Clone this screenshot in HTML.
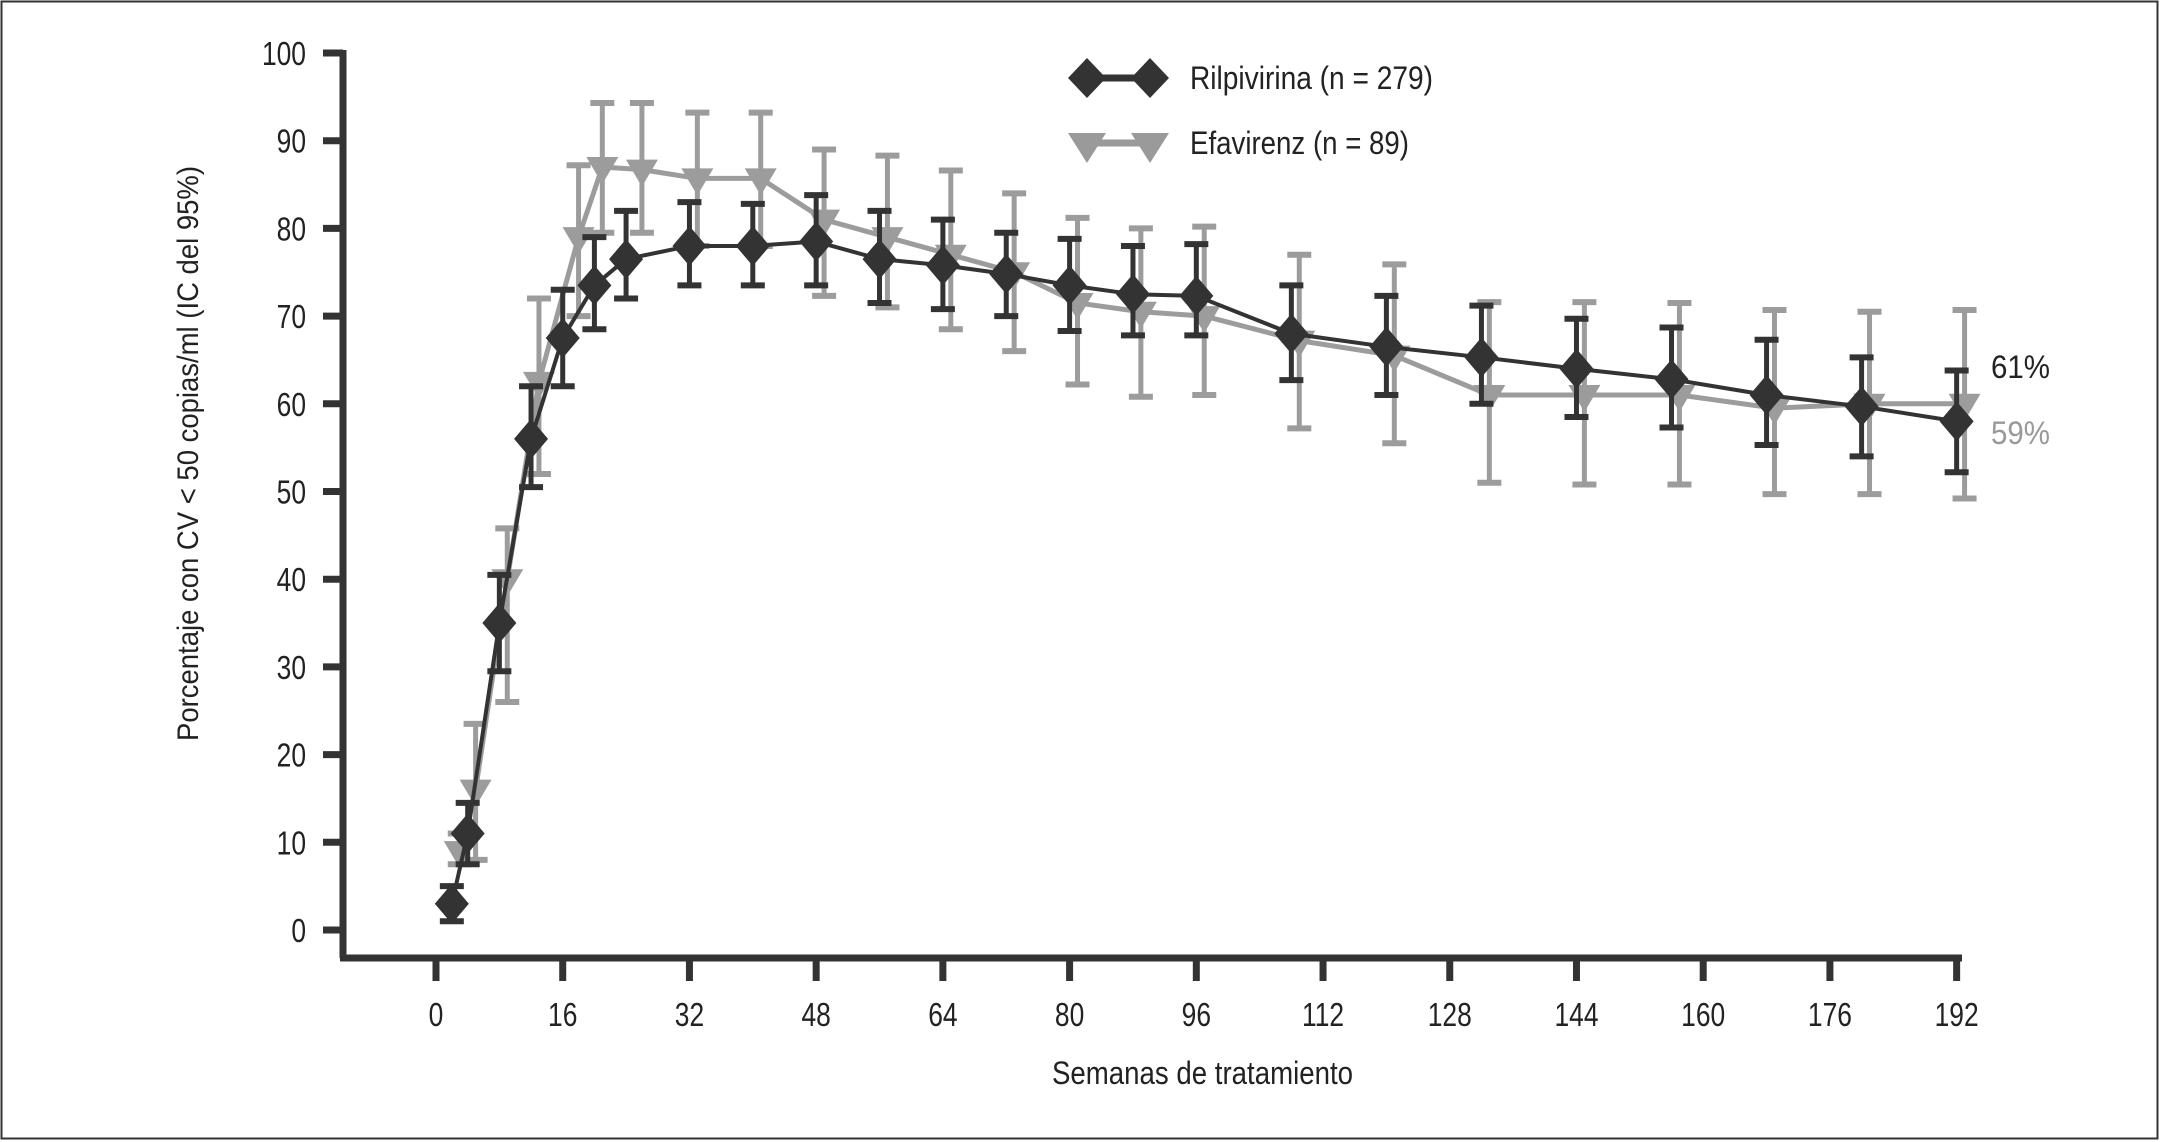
<!DOCTYPE html>
<html><head><meta charset="utf-8"><style>
html,body{margin:0;padding:0;background:#fff;}
svg{display:block;}
text{font-family:"Liberation Sans Narrow","Liberation Sans",sans-serif;}
</style></head><body>
<svg id="chart" width="2164" height="1142" viewBox="0 0 2164 1142" xmlns="http://www.w3.org/2000/svg">
<rect x="1.5" y="1.5" width="2156" height="1137" fill="#fff" stroke="#333" stroke-width="2"/>
<g id="axes"></g>
<g id="series"></g>
<g>
 <line x1="1087" y1="78" x2="1150" y2="78" stroke="#333" stroke-width="7"/>
 <polygon points="1087,58 1106,78 1087,98 1068,78" fill="#333"/>
 <polygon points="1150,58 1169,78 1150,98 1131,78" fill="#333"/>
 <text x="1190" y="89" font-size="32" fill="#222" textLength="243" lengthAdjust="spacingAndGlyphs">Rilpivirina (n = 279)</text>
 <line x1="1087" y1="143" x2="1150" y2="143" stroke="#9a9a9a" stroke-width="7"/>
 <polygon points="1068,133 1106,133 1087,163" fill="#9a9a9a"/>
 <polygon points="1131,133 1169,133 1150,163" fill="#9a9a9a"/>
 <text x="1190" y="154" font-size="32" fill="#222" textLength="219" lengthAdjust="spacingAndGlyphs">Efavirenz (n = 89)</text>
</g>
<text x="1991" y="378" font-size="32" fill="#222" textLength="59" lengthAdjust="spacingAndGlyphs">61%</text>
<text x="1991" y="444" font-size="32" fill="#999" textLength="59" lengthAdjust="spacingAndGlyphs">59%</text>
<text x="1052" y="1084" font-size="32" fill="#222" textLength="301" lengthAdjust="spacingAndGlyphs">Semanas de tratamiento</text>
<text transform="translate(198,741) rotate(-90)" font-size="30" fill="#222" textLength="575" lengthAdjust="spacingAndGlyphs">Porcentaje con CV &lt; 50 copias/ml (IC del 95%)</text>
</svg>
<script>
const xTicks=[0,16,32,48,64,80,96,112,128,144,160,176,192];
const yTicks=[0,10,20,30,40,50,60,70,80,90,100];
const rilWeeks=[2,4,8,12,16,20,24,32,40,48,56,64,72,80,88,96,108,120,132,144,156,168,180,192];
const rilVal=[3,11,35,56,67.5,73.5,76.5,78,78,78.5,76.5,75.8,74.8,73.5,72.5,72.3,68,66.5,65.3,64,62.8,61,59.7,58];
const rilLo=[1,7.5,29.5,50.5,62,68.5,72,73.5,73.5,73.5,71.5,70.8,70,68.3,67.8,67.8,62.7,61,60,58.5,57.3,55.3,54,52.2];
const rilHi=[5,14.5,40.5,62,73,79,82,83,82.8,83.8,82,81,79.5,78.8,78,78.2,73.5,72.3,71.2,69.7,68.7,67.3,65.3,63.8];
const efvWeeks=[3,5,9,13,18,21,26,33,41,49,57,65,73,81,89,97,109,121,133,145,157,169,181,193];
const efvVal=[9,16,40,62.5,79,87,86.7,85.7,85.7,81,79,77,75,71.5,70.5,70,67.2,65.5,61,61,61,59.5,60,60];
const efvLo=[7.5,8,26,52,70,79.5,79.5,78,78,72.3,71,68.5,66,62.2,60.8,61,57.2,55.5,51,50.8,50.8,49.7,49.7,49.2];
const efvHi=[11,23.5,45.8,72,87.2,94.3,94.3,93.2,93.2,89,88.3,86.6,84,81.2,80,80.2,77,75.9,71.6,71.6,71.5,70.7,70.5,70.7];

const NS='http://www.w3.org/2000/svg';
const X=w=>436+w*7.92;
const Y=v=>930-v*8.77;
function mk(tag,attrs,parent){const e=document.createElementNS(NS,tag);for(const k in attrs)e.setAttribute(k,attrs[k]);parent.appendChild(e);return e;}
const axes=document.getElementById('axes');
const series=document.getElementById('series');
let e;
e=mk('line',{x1:343,y1:Y(100)-3,x2:343,y2:958,stroke:'#333','stroke-width':7},axes);


e=mk('line',{x1:340,y1:958,x2:1962,y2:958,stroke:'#333','stroke-width':7},axes);


yTicks.forEach(v=>{
 mk('line',{x1:323,y1:Y(v),x2:343,y2:Y(v),stroke:'#333','stroke-width':7},axes);
 e=mk('text',{transform:`translate(306,${Y(v)+12}) scale(0.8,1)`,'font-size':33,'text-anchor':'end',fill:'#222'},axes);
 e.textContent=v;
 
 
});
xTicks.forEach(w=>{
 mk('line',{x1:X(w),y1:958,x2:X(w),y2:981,stroke:'#333','stroke-width':7},axes);
 e=mk('text',{transform:`translate(${X(w)},1026) scale(0.8,1)`,'font-size':33,'text-anchor':'middle',fill:'#222'},axes);
 e.textContent=w;
 
 
});
function drawSeries(weeks,vals,lo,hi,color,lw,kind,name){
 const g=mk('g',{},series);
 
 
 weeks.forEach((w,i)=>{
  const x=X(w);
  mk('line',{x1:x,y1:Y(lo[i]),x2:x,y2:Y(hi[i]),stroke:color,'stroke-width':5},g);
  mk('line',{x1:x-12,y1:Y(lo[i]),x2:x+12,y2:Y(lo[i]),stroke:color,'stroke-width':6},g);
  mk('line',{x1:x-12,y1:Y(hi[i]),x2:x+12,y2:Y(hi[i]),stroke:color,'stroke-width':6},g);
 });
 const pts=weeks.map((w,i)=>X(w)+','+Y(vals[i])).join(' ');
 mk('polyline',{points:pts,fill:'none',stroke:color,'stroke-width':lw,'stroke-linejoin':'round'},g);
 weeks.forEach((w,i)=>{
  const x=X(w),y=Y(vals[i]);let m;
  if(kind==='d') m=mk('polygon',{points:`${x},${y-20} ${x+17},${y} ${x},${y+20} ${x-17},${y}`,fill:color},g);
  else m=mk('polygon',{points:`${x-16},${y-10} ${x+16},${y-10} ${x},${y+17}`,fill:color},g);
  
  
 });
}
drawSeries(efvWeeks,efvVal,efvLo,efvHi,'#9c9c9c',5,'t','efavirenz');
drawSeries(rilWeeks,rilVal,rilLo,rilHi,'#333333',4,'d','rilpivirina');
</script>
</body></html>
